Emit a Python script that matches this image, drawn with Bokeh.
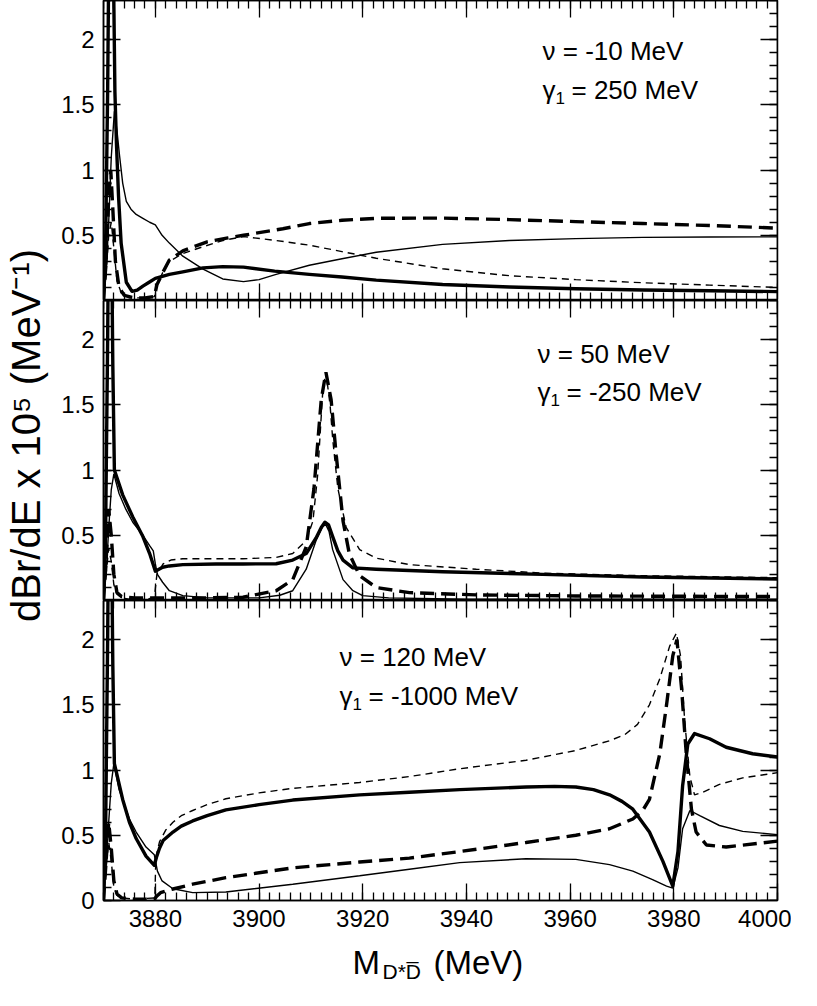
import math
from bokeh.plotting import figure
from bokeh.models import (Range1d, LinearAxis, FixedTicker, SingleIntervalTicker,
                          CustomJSTickFormatter, Label)
from bokeh.layouts import column, row
from bokeh.embed import file_html
from bokeh.resources import INLINE

FONT = "Liberation Sans"

# ---------------- data ----------------
# Panel 1: nu = -10 MeV, gamma1 = 250 MeV
p1_ts_E = [3870.0, 3870.4, 3870.8, 3871.1, 3871.5, 3871.9, 3872.2, 3872.5, 3872.9, 3873.4, 3874.4, 3875.5,
           3876.5, 3877.6, 3878.8, 3880.0, 3882.7, 3885.3, 3889.2, 3893.0, 3897.0, 3903.0, 3909.7, 3916.0,
           3922.6, 3935.4, 3948.3, 3961.1, 3974.0, 3987.0, 4000.0]
p1_ts_v = [0.0, 0.4, 1.6, 3.0, 3.5, 2.6, 1.6, 1.2, 0.8, 0.44, 0.14, 0.07,
           0.08, 0.11, 0.14, 0.17, 0.2, 0.22, 0.25, 0.26, 0.256, 0.225, 0.2, 0.18,
           0.156, 0.123, 0.103, 0.09, 0.08, 0.075, 0.068]
p1_tn_E = [3870.0, 3870.5, 3871.0, 3871.5, 3872.1, 3872.6, 3873.1, 3873.7, 3874.4, 3875.3, 3876.3, 3877.6,
           3878.9, 3880.0, 3881.3, 3882.7, 3885.3, 3889.2, 3893.0, 3897.0, 3900.0, 3903.3, 3909.7, 3916.0,
           3922.6, 3935.4, 3948.3, 3961.1, 3974.0, 3987.0, 4000.0]
p1_tn_v = [0.0, 0.2, 0.6, 1.1, 1.45, 1.3, 1.11, 0.9, 0.76, 0.7, 0.66, 0.63,
           0.6, 0.58, 0.5, 0.44, 0.34, 0.24, 0.165, 0.145, 0.16, 0.2, 0.27, 0.32,
           0.37, 0.43, 0.46, 0.474, 0.484, 0.487, 0.488]
p1_ds_E = [3870.0, 3870.5, 3871.0, 3871.4, 3871.8, 3872.3, 3873.0, 3874.0, 3876.0, 3878.0, 3879.8, 3880.3,
           3881.5, 3882.7, 3885.3, 3887.2, 3890.0, 3894.0, 3897.0, 3904.6, 3909.7, 3916.0, 3922.6, 3935.4,
           3948.3, 3961.1, 3974.0, 3986.9, 4000.0]
p1_ds_v = [0.0, 0.3, 0.8, 1.0, 0.7, 0.3, 0.1, 0.04, 0.02, 0.02, 0.03, 0.12,
           0.22, 0.31, 0.38, 0.41, 0.45, 0.48, 0.5, 0.55, 0.59, 0.615, 0.63, 0.632,
           0.62, 0.605, 0.59, 0.575, 0.555]
p1_dn_E = [3870.0, 3870.5, 3871.0, 3871.5, 3872.0, 3872.6, 3873.5, 3875.0, 3877.0, 3879.8, 3880.3, 3881.5,
           3882.7, 3885.3, 3889.0, 3893.0, 3897.0, 3903.3, 3909.7, 3916.0, 3922.6, 3935.4, 3948.3, 3961.1,
           3974.0, 3986.9, 4000.0]
p1_dn_v = [0.0, 0.2, 0.5, 0.6, 0.4, 0.15, 0.05, 0.02, 0.02, 0.03, 0.12, 0.22,
           0.3, 0.36, 0.41, 0.46, 0.49, 0.46, 0.424, 0.375, 0.324, 0.243, 0.19, 0.16,
           0.136, 0.118, 0.1]

# Panel 2: nu = 50 MeV, gamma1 = -250 MeV
p2_ts_E = [3870.0, 3870.4, 3870.8, 3871.1, 3871.5, 3871.8, 3872.1, 3873.7, 3875.65, 3877.6, 3878.9, 3880.0,
           3881.4, 3882.7, 3885.3, 3891.7, 3896.9, 3903.3, 3906.5, 3909.1, 3911.0, 3912.0, 3912.7, 3913.4,
           3914.2, 3915.2, 3916.2, 3918.1, 3922.6, 3935.4, 3954.7, 3974.0, 4000.0]
p2_ts_v = [0.0, 0.5, 2.0, 3.5, 3.0, 1.8, 1.0, 0.81, 0.64, 0.49, 0.36, 0.225,
           0.255, 0.265, 0.275, 0.28, 0.28, 0.282, 0.31, 0.36, 0.48, 0.56, 0.6, 0.58,
           0.49, 0.38, 0.31, 0.25, 0.24, 0.22, 0.2, 0.18, 0.165]
p2_tn_E = [3870.0, 3870.5, 3871.0, 3871.5, 3872.0, 3873.0, 3874.3, 3875.65, 3877.6, 3878.9, 3879.6, 3880.0,
           3880.4, 3881.4, 3882.7, 3885.3, 3890.0, 3900.0, 3904.0, 3906.5, 3909.1, 3911.0, 3912.3, 3912.9,
           3913.5, 3914.2, 3916.2, 3918.1, 3920.0, 3925.0, 3940.0, 3970.0, 4000.0]
p2_tn_v = [0.0, 0.2, 0.55, 0.85, 0.97, 0.82, 0.7, 0.6, 0.5, 0.42, 0.38, 0.28,
           0.2, 0.14, 0.075, 0.037, 0.02, 0.02, 0.04, 0.075, 0.24, 0.46, 0.57, 0.58,
           0.53, 0.39, 0.16, 0.075, 0.037, 0.02, 0.01, 0.01, 0.01]
p2_ds_E = [3870.0, 3870.5, 3871.0, 3871.5, 3872.0, 3872.6, 3873.5, 3876.0, 3880.0, 3885.0, 3890.0, 3896.9,
           3903.3, 3906.5, 3909.1, 3910.6, 3912.0, 3912.9, 3913.9, 3914.9, 3916.2, 3917.4, 3919.4, 3922.6,
           3929.0, 3941.9, 3961.1, 4000.0]
p2_ds_v = [0.0, 0.3, 0.7, 0.5, 0.2, 0.06, 0.03, 0.02, 0.02, 0.02, 0.02, 0.025,
           0.075, 0.16, 0.41, 0.86, 1.54, 1.75, 1.54, 1.11, 0.61, 0.36, 0.19, 0.1,
           0.06, 0.043, 0.035, 0.03]
p2_dn_E = [3870.0, 3870.5, 3871.0, 3871.5, 3872.0, 3872.6, 3873.5, 3875.0, 3878.0, 3879.8, 3880.3, 3881.5,
           3883.0, 3885.3, 3896.9, 3903.3, 3906.5, 3909.1, 3910.4, 3911.3, 3912.3, 3912.9, 3913.7, 3914.2,
           3915.2, 3916.8, 3919.4, 3922.6, 3929.0, 3941.9, 3954.7, 3974.0, 4000.0]
p2_dn_v = [0.0, 0.2, 0.4, 0.3, 0.12, 0.05, 0.02, 0.01, 0.01, 0.02, 0.2, 0.28,
           0.31, 0.32, 0.32, 0.33, 0.36, 0.46, 0.61, 0.96, 1.61, 1.75, 1.5, 1.24,
           0.86, 0.56, 0.39, 0.325, 0.275, 0.24, 0.21, 0.19, 0.175]

# Panel 3: nu = 120 MeV, gamma1 = -1000 MeV
p3_ts_E = [3870.0, 3870.4, 3870.8, 3871.1, 3871.5, 3871.8, 3872.1, 3873.7, 3875.0, 3876.3, 3878.2, 3879.8,
           3880.2, 3880.8, 3881.5, 3883.4, 3885.0, 3887.2, 3890.0, 3893.6, 3900.0, 3906.5, 3919.4, 3929.0,
           3938.7, 3951.5, 3957.0, 3961.1, 3964.5, 3967.6, 3970.0, 3972.1, 3975.3, 3977.9, 3979.8, 3980.8,
           3981.7, 3982.7, 3984.0, 3986.9, 3990.1, 3995.2, 4000.0]
p3_ts_v = [0.0, 0.5, 2.0, 3.5, 3.0, 1.8, 1.05, 0.775, 0.6, 0.475, 0.34, 0.27,
           0.33, 0.4, 0.46, 0.525, 0.57, 0.61, 0.65, 0.695, 0.735, 0.77, 0.81, 0.83,
           0.85, 0.87, 0.875, 0.87, 0.85, 0.81, 0.76, 0.7, 0.525, 0.3, 0.11, 0.375,
           0.88, 1.2, 1.28, 1.24, 1.175, 1.125, 1.1]
p3_tn_E = [3870.0, 3870.5, 3871.0, 3871.5, 3872.0, 3873.0, 3875.0, 3876.3, 3878.2, 3879.8, 3880.4, 3881.3,
           3883.4, 3887.2, 3893.6, 3906.5, 3919.4, 3929.0, 3938.7, 3951.5, 3961.1, 3967.6, 3972.1, 3975.9,
           3978.6, 3979.8, 3980.8, 3981.7, 3983.1, 3985.0, 3988.8, 3993.3, 4000.0]
p3_tn_v = [0.0, 0.25, 0.6, 0.9, 1.05, 0.85, 0.625, 0.525, 0.41, 0.35, 0.225, 0.15,
           0.09, 0.06, 0.065, 0.125, 0.19, 0.24, 0.29, 0.32, 0.315, 0.275, 0.225, 0.16,
           0.11, 0.095, 0.25, 0.55, 0.69, 0.65, 0.575, 0.53, 0.505]
p3_ds_E = [3870.0, 3870.5, 3871.0, 3871.5, 3872.0, 3872.6, 3873.5, 3876.0, 3879.8, 3880.2, 3881.0, 3883.4,
           3887.2, 3893.6, 3906.5, 3919.4, 3929.0, 3938.7, 3951.5, 3961.1, 3967.6, 3972.1, 3974.0, 3975.3,
           3977.3, 3978.6, 3979.8, 3980.6, 3981.5, 3982.4, 3983.4, 3984.3, 3986.3, 3990.1, 4000.0]
p3_ds_v = [0.0, 0.3, 0.6, 0.4, 0.15, 0.05, 0.02, 0.01, 0.01, 0.03, 0.06, 0.088,
           0.125, 0.175, 0.25, 0.295, 0.325, 0.375, 0.445, 0.5, 0.55, 0.625, 0.69, 0.775,
           1.125, 1.5, 1.875, 2.0, 1.625, 1.125, 0.7, 0.525, 0.425, 0.41, 0.455]
p3_dn_E = [3870.0, 3870.5, 3871.0, 3871.5, 3872.0, 3872.6, 3873.5, 3876.0, 3879.9, 3880.1, 3880.8, 3882.0,
           3883.4, 3885.0, 3887.2, 3890.0, 3893.6, 3900.0, 3906.5, 3919.4, 3929.0, 3938.7, 3951.5, 3961.1,
           3967.6, 3970.5, 3973.0, 3975.3, 3977.3, 3979.2, 3980.5, 3981.3, 3982.1, 3983.1, 3984.0, 3985.6,
           3988.8, 3993.3, 4000.0]
p3_dn_v = [0.0, 0.25, 0.45, 0.3, 0.1, 0.04, 0.02, 0.01, 0.02, 0.33, 0.45, 0.54,
           0.6, 0.65, 0.69, 0.735, 0.78, 0.825, 0.86, 0.905, 0.95, 1.01, 1.075, 1.15,
           1.225, 1.27, 1.35, 1.5, 1.7, 1.95, 2.05, 1.875, 1.375, 0.95, 0.81, 0.83,
           0.89, 0.94, 0.98]

nu_labels = ["ν = -10 MeV", "ν = 50 MeV", "ν = 120 MeV"]
gamma_labels = ["= 250 MeV", "= -250 MeV", "= -1000 MeV"]
y_major = [0.5, 1.0, 1.5, 2.0]
y_major_bottom = [0.0, 0.5, 1.0, 1.5, 2.0]
y_minor = [round(0.1 * k, 1) for k in range(0, 24)]
y_title = "dBr/dE x 10⁵ (MeV⁻¹)"

panels = [
    (p1_ts_E, p1_ts_v, p1_tn_E, p1_tn_v, p1_ds_E, p1_ds_v, p1_dn_E, p1_dn_v),
    (p2_ts_E, p2_ts_v, p2_tn_E, p2_tn_v, p2_ds_E, p2_ds_v, p2_dn_E, p2_dn_v),
    (p3_ts_E, p3_ts_v, p3_tn_E, p3_tn_v, p3_ds_E, p3_ds_v, p3_dn_E, p3_dn_v),
]

STRIP_W = 50
LEFT = 53
RIGHT = 14
FW, FH = 674, 300
TICK_FS = "24px"
ANN_FS = "26px"

# annotation positions (frame-relative screen px)
ann_x = [439, 434, 236]
ann_y1 = [FH - 50, FH - 53, FH - 56]
ann_y2 = [FH - 89, FH - 91, FH - 95]


def txt(x, y, text, size, **kw):
    return Label(x=x, y=y, x_units="screen", y_units="screen", text=text,
                 text_font=FONT, text_font_size=size, text_color="black",
                 text_baseline=kw.pop("text_baseline", "alphabetic"), **kw)


def style_axis(ax, show_labels):
    ax.axis_line_width = 1.5
    ax.axis_line_color = "black"
    ax.major_tick_in = 17
    ax.major_tick_out = 0
    ax.minor_tick_in = 8
    ax.minor_tick_out = 0
    ax.major_tick_line_width = 1.3
    ax.minor_tick_line_width = 1.3
    ax.major_tick_line_color = "black"
    ax.minor_tick_line_color = "black"
    if show_labels:
        ax.major_label_text_font = FONT
        ax.major_label_text_font_size = TICK_FS
        ax.major_label_text_color = "black"
        ax.major_label_standoff = 9
    else:
        ax.major_label_text_alpha = 0.0


figs = []
for i, data in enumerate(panels):
    bottom = (i == 2)
    p = figure(frame_width=FW, frame_height=FH,
               x_range=Range1d(3870, 4000), y_range=Range1d(0, 2.3),
               output_backend="svg", toolbar_location=None,
               x_axis_location=None, y_axis_location=None,
               min_border_left=LEFT, min_border_right=RIGHT,
               min_border_top=0, min_border_bottom=(36 if bottom else 0),
               background_fill_color="white", border_fill_color="white",
               outline_line_color="black", outline_line_width=1.5)
    p.xgrid.visible = False
    p.ygrid.visible = False

    xb = LinearAxis(ticker=SingleIntervalTicker(interval=20, num_minor_ticks=10))
    style_axis(xb, bottom)
    if not bottom:
        xb.fixed_location = 0.0
    p.add_layout(xb, "below")
    yl = LinearAxis(ticker=FixedTicker(ticks=(y_major_bottom if bottom else y_major), minor_ticks=y_minor),
                    formatter=CustomJSTickFormatter(code="return String(tick)"))
    style_axis(yl, True)
    p.add_layout(yl, "left")
    xa = LinearAxis(ticker=SingleIntervalTicker(interval=20, num_minor_ticks=10), fixed_location=2.3)
    style_axis(xa, False)
    p.add_layout(xa, "above")
    yr = LinearAxis(ticker=FixedTicker(ticks=y_major_bottom, minor_ticks=y_minor), fixed_location=4000)
    style_axis(yr, False)
    p.add_layout(yr, "right")

    tsE, tsv, tnE, tnv, dsE, dsv, dnE, dnv = data
    p.line(dnE, dnv, line_width=1.4, color="black", line_dash="7 5")
    p.line(tnE, tnv, line_width=1.4, color="black")
    p.line(dsE, dsv, line_width=3.4, color="black", line_dash="14 7")
    p.line(tsE, tsv, line_width=3.4, color="black", line_join="round")

    p.add_layout(txt(ann_x[i], ann_y1[i], nu_labels[i], ANN_FS))
    p.add_layout(txt(ann_x[i], ann_y2[i], "γ", ANN_FS))
    p.add_layout(txt(ann_x[i] + 13, ann_y2[i] - 8, "1", "17px"))
    p.add_layout(txt(ann_x[i] + 29, ann_y2[i], gamma_labels[i], ANN_FS))
    figs.append(p)

# strip holding the x-axis title
xlab = figure(frame_width=FW, frame_height=50, x_range=Range1d(0, 1), y_range=Range1d(0, 1),
              output_backend="svg", toolbar_location=None,
              x_axis_location=None, y_axis_location=None,
              min_border_left=LEFT, min_border_right=RIGHT, min_border_top=0, min_border_bottom=0,
              outline_line_color=None, background_fill_color="white", border_fill_color="white")
xlab.xgrid.visible = False
xlab.ygrid.visible = False
xlab.add_layout(txt(249, 24, "M", "33px"))
xlab.add_layout(txt(279, 15, "D*D\u0305", "21px"))
xlab.add_layout(txt(330, 24, "(MeV)", "33px"))

# strip holding the y-axis title
ylab = figure(frame_width=STRIP_W, frame_height=3 * FH, x_range=Range1d(0, 1), y_range=Range1d(0, 1),
              output_backend="svg", toolbar_location=None,
              x_axis_location=None, y_axis_location=None,
              min_border_left=0, min_border_right=0, min_border_top=0, min_border_bottom=0,
              outline_line_color=None, background_fill_color="white", border_fill_color="white")
ylab.xgrid.visible = False
ylab.ygrid.visible = False
ylab.add_layout(txt(25, 3 * FH + 8 - 443, y_title, "40px", angle=math.pi / 2,
                    text_align="center", text_baseline="middle"))

layout = row(ylab, column(*figs, xlab, spacing=0), spacing=0)
open("out.html", "w").write(file_html(layout, INLINE))
